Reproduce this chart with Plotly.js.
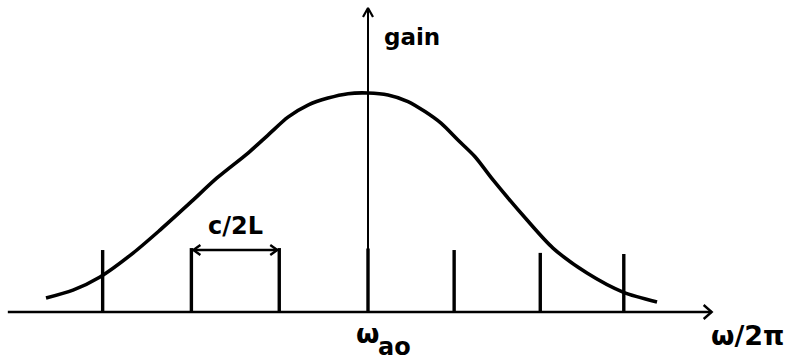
<!DOCTYPE html>
<html>
<head>
<meta charset="utf-8">
<script src="https://cdn.plot.ly/plotly-3.0.1.min.js"></script>
<style>
  html, body { margin: 0; padding: 0; background: #fff; }
  #plot { width: 787px; height: 361px; }
</style>
</head>
<body>
<div id="plot"></div>
<script>
// Frequency in units of the mode spacing c/2L, measured from the line centre ω_ao.
// Gain is relative to the peak value at line centre.
const curveFreq = [-3.701, -3.391, -3.080, -2.701, -2.391, -2.046, -1.736, -1.379, -1.149, -0.920,
                   -0.690, -0.460, -0.230, 0.000, 0.230, 0.460, 0.655, 0.839, 1.034, 1.230,
                   1.437, 1.828, 2.126, 2.517, 2.931, 3.322];
const curveGain = [0.064, 0.100, 0.160, 0.269, 0.374, 0.498, 0.612, 0.726, 0.808, 0.890,
                   0.945, 0.977, 0.997, 1.000, 0.991, 0.961, 0.915, 0.862, 0.785, 0.709,
                   0.603, 0.420, 0.292, 0.178, 0.091, 0.046];

// Longitudinal cavity modes
const modeFreq = [-3.05, -2.03, -1.02, 0.00, 0.99, 1.98, 2.94];
const modeHeight = [0.283, 0.292, 0.292, 0.290, 0.283, 0.270, 0.265];

// Axis extents
const freqAxis = [-4.14, 3.95];
const gainAxisTop = 1.388;

// Spacing marker between two neighbouring modes
const spacingFrom = 1, spacingTo = 2, spacingGain = 0.283;

// Labels
const labelGain = 'gain';
const labelSpacing = 'c/2L';
const labelCentre = 'ω';
const labelCentreSub = 'ao';
const labelFreq = 'ω/2π';

const W = 787, H = 361;
const xRange = [-4.2299, 4.816];
const yRange = [-0.2237, 1.4247];
const pxX = (xRange[1] - xRange[0]) / W;   // data units per pixel, horizontal
const pxY = (yRange[1] - yRange[0]) / H;   // data units per pixel, vertical

const ink = '#000';
const traces = [];

function seg(xs, ys, width) {
  traces.push({x: xs, y: ys, mode: 'lines', line: {color: ink, width: width},
               hoverinfo: 'skip', showlegend: false});
}

// open chevron arrowhead at (x, y) pointing in direction (dirX, dirY), sizes in pixels
function chevron(x, y, dirX, dirY, back, spread, width) {
  const bx = -dirX * back, by = -dirY * back;
  const nx = -dirY * spread, ny = dirX * spread;
  seg([x + (bx + nx) * pxX, x, x + (bx - nx) * pxX],
      [y + (by + ny) * pxY, y, y + (by - ny) * pxY], width);
}

// frequency axis
seg(freqAxis, [0, 0], 2.4);
chevron(freqAxis[1], 0, 1, 0, 8, 7, 2.4);

// gain axis
seg([0, 0], [0, gainAxisTop], 2);
chevron(0, gainAxisTop, 0, 1, 9, 5, 2.2);

// modes
const mx = [], my = [];
modeFreq.forEach((f, i) => { mx.push(f, f, null); my.push(0, modeHeight[i], null); });
seg(mx, my, 3.4);

// gain curve
traces.push({x: curveFreq, y: curveGain, mode: 'lines',
             line: {color: ink, width: 3.6, shape: 'spline', smoothing: 0.8},
             hoverinfo: 'skip', showlegend: false});

// spacing double arrow
const a0 = modeFreq[spacingFrom] + 2 * pxX, a1 = modeFreq[spacingTo] - 2 * pxX;
seg([a0, a1], [spacingGain, spacingGain], 2.4);
chevron(a0, spacingGain, -1, 0, 7, 5, 2.4);
chevron(a1, spacingGain, 1, 0, 7, 5, 2.4);

const font = (size) => ({family: 'DejaVu Sans, sans-serif', size: size, color: ink, weight: 'bold'});
const ann = (text, x, y, size) => ({text: text, x: x, y: y, xref: 'x', yref: 'y',
  showarrow: false, xanchor: 'center', yanchor: 'middle', font: font(size)});

const layout = {
  width: W, height: H,
  margin: {l: 0, r: 0, t: 0, b: 0},
  paper_bgcolor: '#fff', plot_bgcolor: '#fff',
  showlegend: false,
  xaxis: {range: xRange, visible: false, fixedrange: true},
  yaxis: {range: yRange, visible: false, fixedrange: true},
  annotations: [
    ann(labelGain, 0.51, 1.255, 23),
    ann(labelSpacing, (modeFreq[spacingFrom] + modeFreq[spacingTo]) / 2, 0.393, 24),
    ann(labelCentre, -0.01, -0.100, 27),
    ann(labelCentreSub, 0.31, -0.162, 24),
    ann(labelFreq, 4.36, -0.108, 27)
  ]
};

Plotly.newPlot('plot', traces, layout, {staticPlot: true, displayModeBar: false});
</script>
</body>
</html>
